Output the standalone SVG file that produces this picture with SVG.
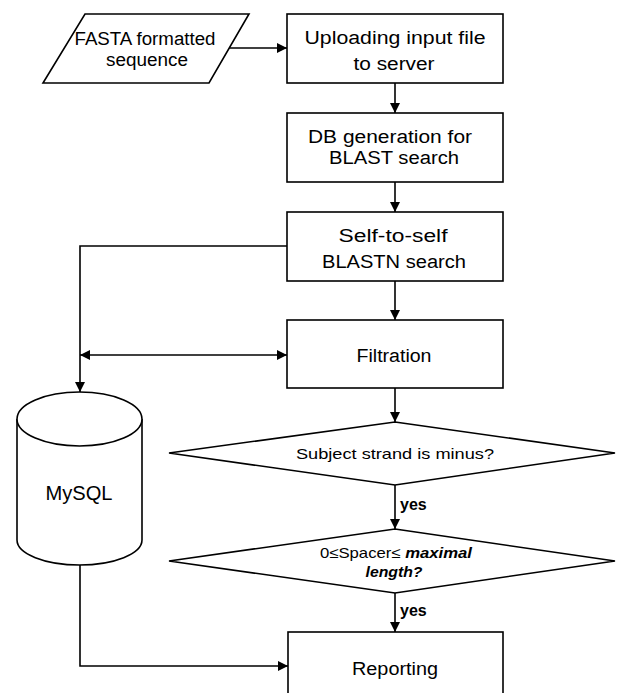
<svg xmlns="http://www.w3.org/2000/svg" width="617" height="693" viewBox="0 0 617 693">
<defs>
<marker id="ah" viewBox="0 0 10 10" refX="10" refY="5" markerWidth="10" markerHeight="10" markerUnits="userSpaceOnUse" orient="auto-start-reverse">
<path d="M0,0 L10,5 L0,10 z" fill="#000"/>
</marker>
<style>
.s{fill:#fff;stroke:#000;stroke-width:1.6}
.c{fill:none;stroke:#000;stroke-width:1.6}
text{font-family:"Liberation Sans",Arial,sans-serif;fill:#000;text-anchor:middle}
.b{font-size:18px}
.d{font-size:15px}
.y{font-size:16px;font-weight:bold;text-anchor:start}
.i{font-style:italic;font-weight:bold}
</style>
</defs>
<rect width="617" height="693" fill="#fff"/>
<g id="connectors">
<line class="c" x1="229.5" y1="48" x2="287" y2="48" marker-end="url(#ah)"/>
<line class="c" x1="395" y1="83" x2="395" y2="113" marker-end="url(#ah)"/>
<line class="c" x1="395" y1="182" x2="395" y2="212" marker-end="url(#ah)"/>
<line class="c" x1="395" y1="281" x2="395" y2="320" marker-end="url(#ah)"/>
<line class="c" x1="395" y1="388" x2="395" y2="422" marker-end="url(#ah)"/>
<line class="c" x1="395" y1="485" x2="395" y2="529" marker-end="url(#ah)"/>
<line class="c" x1="395" y1="593" x2="395" y2="632" marker-end="url(#ah)"/>
<polyline class="c" points="287,246 80,246 80,392" marker-end="url(#ah)"/>
<line class="c" x1="80" y1="355" x2="287" y2="355" marker-start="url(#ah)" marker-end="url(#ah)"/>
<polyline class="c" points="80,565 80,666 288,666" marker-end="url(#ah)"/>
<text class="y" x="400" y="510">yes</text>
<text class="y" x="400" y="616">yes</text>
</g>
<g id="fasta">
<polygon class="s" points="85,14 249,14 209,83 43,83"/>
<text class="b" x="145" y="45" textLength="141" lengthAdjust="spacingAndGlyphs">FASTA formatted</text>
<text class="b" x="147" y="66" textLength="82" lengthAdjust="spacingAndGlyphs">sequence</text>
</g>
<g id="upload">
<rect class="s" x="287" y="14" width="216" height="69"/>
<text class="b" x="395" y="44" textLength="181" lengthAdjust="spacingAndGlyphs">Uploading  input  file</text>
<text class="b" x="394" y="70" textLength="81" lengthAdjust="spacingAndGlyphs">to server</text>
</g>
<g id="dbgen">
<rect class="s" x="287" y="113" width="216" height="69"/>
<text class="b" x="390" y="143" textLength="164" lengthAdjust="spacingAndGlyphs">DB generation for</text>
<text class="b" x="394" y="164" textLength="130" lengthAdjust="spacingAndGlyphs">BLAST search</text>
</g>
<g id="blastn">
<rect class="s" x="287" y="212" width="216" height="69"/>
<text class="b" x="393" y="242" textLength="109" lengthAdjust="spacingAndGlyphs">Self-to-self</text>
<text class="b" x="394" y="268" textLength="144" lengthAdjust="spacingAndGlyphs">BLASTN search</text>
</g>
<g id="filtration">
<rect class="s" x="287" y="320" width="216" height="68"/>
<text class="b" x="394" y="362" textLength="75" lengthAdjust="spacingAndGlyphs">Filtration</text>
</g>
<g id="strand">
<polygon class="s" points="395,422 615,453 395,485 169,453"/>
<text class="d" x="395" y="459" textLength="198" lengthAdjust="spacingAndGlyphs">Subject strand is minus?</text>
</g>
<g id="spacer">
<polygon class="s" points="395,529 615,561 395,593 169,561"/>
<text class="d" x="396" y="558" textLength="152" lengthAdjust="spacingAndGlyphs">0≤Spacer≤ <tspan class="i">maximal</tspan></text>
<text class="d i" x="394" y="577" textLength="57" lengthAdjust="spacingAndGlyphs">length?</text>
</g>
<g id="mysql">
<path class="s" d="M17,419 L17,540 A62.5,25 0 0 0 142,540 L142,419"/>
<ellipse class="s" cx="79.5" cy="419" rx="62.5" ry="27"/>
<text x="79" y="500" style="font-size:20px" textLength="67" lengthAdjust="spacingAndGlyphs">MySQL</text>
</g>
<g id="reporting">
<rect class="s" x="288" y="632" width="215" height="80"/>
<text class="b" x="395" y="675" textLength="86" lengthAdjust="spacingAndGlyphs">Reporting</text>
</g>
</svg>
